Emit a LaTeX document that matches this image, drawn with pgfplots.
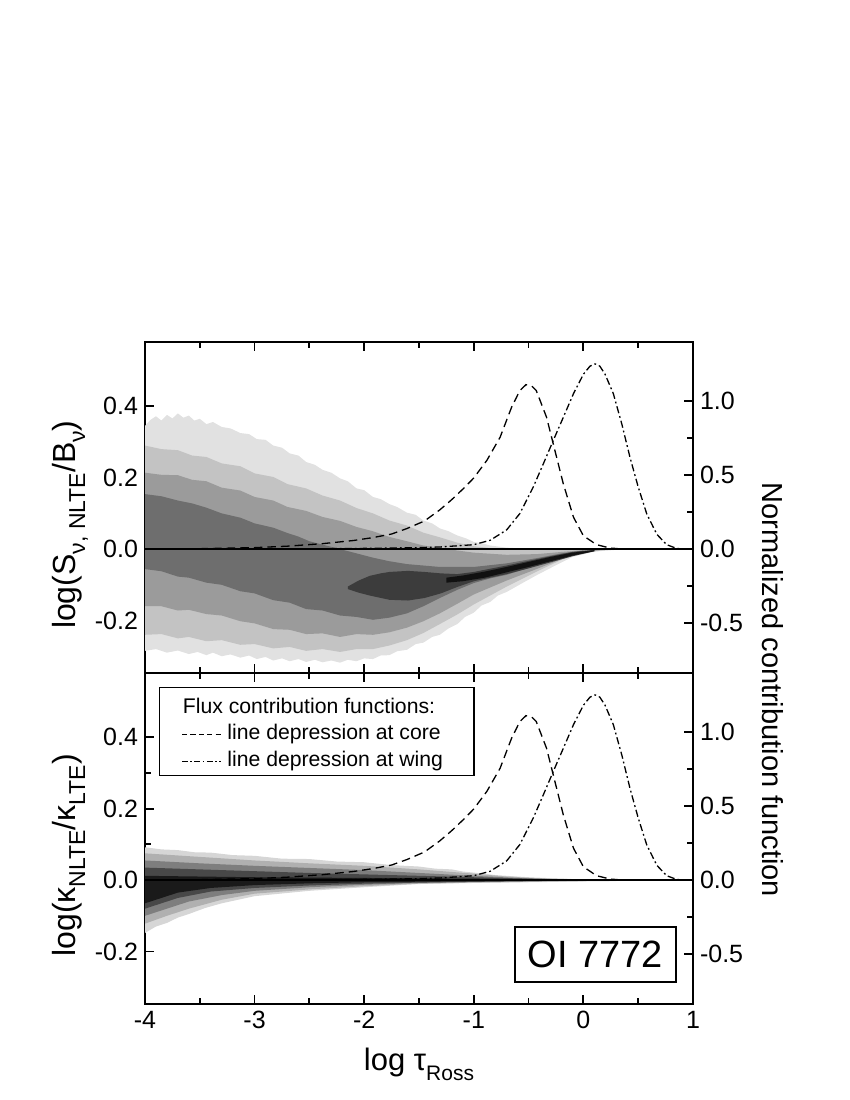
\documentclass[border=0pt]{standalone}
\usepackage{fontspec}
\setmainfont{Liberation Sans}
\usepackage{pgfplots}
\pgfplotsset{compat=1.18}

\definecolor{ca}{HTML}{E1E1E1}
\definecolor{cb}{HTML}{C3C3C3}
\definecolor{cc}{HTML}{9B9B9B}
\definecolor{cd}{HTML}{6E6E6E}
\definecolor{ce}{HTML}{3C3C3C}
\definecolor{cf}{HTML}{111111}
\definecolor{ka}{HTML}{D6D6D6}
\definecolor{kb}{HTML}{B0B0B0}
\definecolor{kc}{HTML}{7E7E7E}
\definecolor{kd}{HTML}{484848}
\definecolor{ke}{HTML}{1A1A1A}

\newcommand{\lsub}[1]{\raisebox{-5pt}{\fontsize{11.5}{11.5}\selectfont #1}}

\tikzset{
  corestyle/.style={black, line width=0.65pt, dash pattern=on 4.3pt off 2.5pt},
  wingstyle/.style={black, line width=0.65pt, dash pattern=on 3.6pt off 1.5pt on 0.9pt off 1.5pt},
}

\pgfplotsset{
  panel/.style={
    scale only axis, width=274pt, height=165.5pt,
    xmin=-4, xmax=1,
    tick align=inside,
    major tick length=4.5pt, minor tick length=2.8pt,
    tick style={black, line width=0.9pt},
    axis line style={line width=1pt},
    tick label style={font=\fontsize{12.5}{12.5}\selectfont},
    /pgf/number format/assume math mode=true,
  },
  leftax/.style={panel,
    ymin=-0.347, ymax=0.58,
    ytick={-0.2,0,0.2,0.4}, minor y tick num=1,
    xtick={-4,-3,...,1}, minor x tick num=1,
    ytick pos=left, xtick pos=both,
    yticklabel style={/pgf/number format/.cd,fixed,fixed zerofill,precision=1},
    ylabel style={font=\fontsize{16}{16}\selectfont, anchor=base},
  },
  rightax/.style={panel,
    ymin=-0.836, ymax=1.398,
    ytick={-0.5,0,0.5,1}, minor y tick num=1,
    axis y line*=right, axis x line=none,
    yticklabel style={/pgf/number format/.cd,fixed,fixed zerofill,precision=1},
  },
}

\pgfplotstableread{
x y
-4 0.000
-3.5 0.003
-3.0 0.010
-2.7 0.020
-2.38 0.037
-2.1 0.058
-1.92 0.078
-1.75 0.102
-1.61 0.139
-1.45 0.190
-1.31 0.265
-1.2 0.335
-1.1 0.405
-1.0 0.480
-0.88 0.600
-0.76 0.755
-0.655 0.958
-0.58 1.070
-0.524 1.110
-0.47 1.100
-0.43 1.070
-0.336 0.890
-0.26 0.666
-0.183 0.440
-0.09 0.215
0.0 0.090
0.12 0.030
0.24 0.008
0.36 0.000
1.0 0.000
}\coretab

\pgfplotstableread{
x y
-3.0 0.000
-2.5 0.002
-2.0 0.005
-1.5 0.010
-1.3 0.015
-1.0 0.030
-0.85 0.060
-0.70 0.130
-0.58 0.240
-0.457 0.420
-0.366 0.575
-0.275 0.733
-0.183 0.890
-0.09 1.050
0.0 1.180
0.06 1.235
0.107 1.250
0.15 1.235
0.198 1.180
0.273 1.050
0.35 0.846
0.425 0.620
0.50 0.420
0.578 0.238
0.67 0.100
0.76 0.030
0.85 0.005
0.95 0.000
1.0 0.000
}\wingtab

\begin{document}
\begin{tikzpicture}
\path[use as bounding box] (0,0) rectangle (425pt,550pt);

% ---------------- upper panel ----------------
\begin{axis}[leftax, at={(72.5pt,213.5pt)}, anchor=south west,
  xticklabels={},
  ylabel={log(S\lsub{ν, NLTE}/B\lsub{ν})},
  ylabel style={at={(axis description cs:-0.1277,0.448)}}]
\addplot[fill=ca, draw=none] coordinates {
(-4,0.345) (-3.95,0.362) (-3.9,0.372) (-3.85,0.36) (-3.8,0.376) (-3.75,0.366) (-3.7,0.38) (-3.65,0.368) (-3.6,0.374) (-3.55,0.36) (-3.5,0.365) (-3.44,0.35) (-3.38,0.356) (-3.3,0.342) (-3.22,0.338) (-3.13,0.325) (-3.05,0.322) (-2.98,0.308) (-2.9,0.306) (-2.83,0.29) (-2.75,0.284) (-2.68,0.268) (-2.6,0.262) (-2.53,0.244) (-2.45,0.236) (-2.38,0.222) (-2.3,0.214) (-2.22,0.198) (-2.15,0.19) (-2.07,0.17) (-2.0,0.165) (-1.92,0.146) (-1.85,0.14) (-1.77,0.126) (-1.7,0.118) (-1.61,0.102) (-1.53,0.096) (-1.46,0.08) (-1.38,0.072) (-1.31,0.058) (-1.23,0.05) (-1.15,0.038) (-1.07,0.03) (-1.0,0.02) (-0.92,0.016) (-0.85,0.01) (-0.7,0.004) (-0.5,0.001) (0.3,0.0)
(0.3,-0.002) (0.1,-0.007) (-0.1,-0.022) (-0.25,-0.045) (-0.42,-0.072) (-0.55,-0.094) (-0.7,-0.12) (-0.78,-0.13) (-0.85,-0.148) (-0.93,-0.158) (-1.0,-0.178) (-1.08,-0.19) (-1.15,-0.21) (-1.23,-0.222) (-1.31,-0.24) (-1.38,-0.246) (-1.46,-0.262) (-1.53,-0.266) (-1.61,-0.282) (-1.7,-0.286) (-1.77,-0.297) (-1.85,-0.298) (-1.92,-0.308) (-2.0,-0.306) (-2.07,-0.314) (-2.15,-0.31) (-2.22,-0.318) (-2.3,-0.312) (-2.38,-0.317) (-2.45,-0.31) (-2.53,-0.316) (-2.6,-0.308) (-2.68,-0.314) (-2.75,-0.306) (-2.83,-0.312) (-2.9,-0.302) (-2.98,-0.308) (-3.05,-0.298) (-3.13,-0.304) (-3.22,-0.295) (-3.3,-0.3) (-3.38,-0.29) (-3.44,-0.297) (-3.52,-0.288) (-3.6,-0.294) (-3.7,-0.284) (-3.8,-0.29) (-3.9,-0.28) (-4,-0.285)};
\addplot[fill=cb, draw=none] coordinates {
(-4,0.29) (-3.85,0.28) (-3.7,0.277) (-3.57,0.262) (-3.44,0.258) (-3.3,0.24) (-3.13,0.232) (-3.0,0.212) (-2.83,0.202) (-2.7,0.182) (-2.53,0.17) (-2.38,0.15) (-2.22,0.136) (-2.07,0.115) (-1.92,0.1) (-1.77,0.08) (-1.61,0.066) (-1.46,0.046) (-1.31,0.033) (-1.15,0.018) (-1.0,0.008) (-0.85,0.003) (-0.7,0.0) (0.2,0.0)
(0.2,-0.003) (0.0,-0.01) (-0.2,-0.03) (-0.42,-0.062) (-0.7,-0.105) (-1.0,-0.155) (-1.15,-0.183) (-1.31,-0.21) (-1.46,-0.235) (-1.61,-0.255) (-1.77,-0.27) (-1.92,-0.28) (-2.07,-0.28) (-2.22,-0.288) (-2.38,-0.28) (-2.53,-0.285) (-2.68,-0.274) (-2.83,-0.278) (-3.0,-0.266) (-3.13,-0.268) (-3.3,-0.255) (-3.44,-0.258) (-3.6,-0.246) (-3.7,-0.25) (-3.85,-0.238) (-4,-0.24)};
\addplot[fill=cc, draw=none] coordinates {
(-4,0.214) (-3.85,0.208) (-3.7,0.207) (-3.57,0.194) (-3.44,0.19) (-3.3,0.172) (-3.13,0.164) (-3.0,0.146) (-2.83,0.136) (-2.7,0.118) (-2.53,0.107) (-2.38,0.09) (-2.22,0.079) (-2.07,0.062) (-1.92,0.05) (-1.77,0.034) (-1.61,0.022) (-1.46,0.01) (-1.31,0.004) (-1.15,-0.004) (-1.0,-0.01) (-0.7,-0.016) (-0.42,-0.014) (-0.2,-0.008) (0.0,-0.003) (0.15,-0.001)
(0.15,-0.003) (0.0,-0.009) (-0.2,-0.028) (-0.42,-0.055) (-0.7,-0.088) (-1.0,-0.127) (-1.15,-0.153) (-1.31,-0.18) (-1.46,-0.202) (-1.61,-0.22) (-1.77,-0.233) (-1.92,-0.24) (-2.07,-0.238) (-2.22,-0.246) (-2.38,-0.236) (-2.53,-0.238) (-2.68,-0.226) (-2.83,-0.224) (-3.0,-0.208) (-3.13,-0.202) (-3.3,-0.186) (-3.44,-0.182) (-3.6,-0.17) (-3.7,-0.172) (-3.85,-0.16) (-4,-0.16)};
\addplot[fill=cd, draw=none] coordinates {
(-4,0.154) (-3.85,0.148) (-3.7,0.136) (-3.57,0.128) (-3.44,0.116) (-3.3,0.1) (-3.13,0.088) (-3.0,0.072) (-2.83,0.06) (-2.7,0.045) (-2.6,0.035) (-2.5,0.022) (-2.4,0.014) (-2.22,0.0) (-2.07,-0.012) (-1.92,-0.024) (-1.77,-0.034) (-1.61,-0.042) (-1.31,-0.05) (-1.0,-0.05) (-0.7,-0.04) (-0.42,-0.025) (-0.2,-0.012) (0.0,-0.004)
(0.0,-0.009) (-0.2,-0.024) (-0.42,-0.045) (-0.7,-0.072) (-0.85,-0.082) (-1.0,-0.095) (-1.15,-0.114) (-1.31,-0.137) (-1.46,-0.16) (-1.61,-0.18) (-1.77,-0.192) (-1.92,-0.198) (-2.07,-0.19) (-2.22,-0.186) (-2.38,-0.172) (-2.53,-0.168) (-2.68,-0.15) (-2.83,-0.143) (-3.0,-0.124) (-3.13,-0.118) (-3.3,-0.1) (-3.44,-0.094) (-3.6,-0.08) (-3.7,-0.077) (-3.85,-0.062) (-4,-0.056)};
\addplot[fill=ce, draw=none] coordinates {
(-2.15,-0.105) (-2.05,-0.088) (-1.95,-0.075) (-1.85,-0.068) (-1.77,-0.064) (-1.6,-0.061) (-1.45,-0.064) (-1.3,-0.068) (-1.15,-0.07) (-1.0,-0.064) (-0.85,-0.055) (-0.7,-0.046) (-0.5,-0.033) (-0.3,-0.02) (-0.1,-0.008) (0.1,-0.002)
(0.1,-0.006) (-0.1,-0.02) (-0.3,-0.037) (-0.5,-0.054) (-0.7,-0.07) (-0.85,-0.08) (-1.0,-0.09) (-1.15,-0.106) (-1.3,-0.124) (-1.45,-0.137) (-1.6,-0.144) (-1.77,-0.142) (-1.95,-0.13) (-2.05,-0.122) (-2.15,-0.112)};
\addplot[fill=cf, draw=none] coordinates {
(-1.25,-0.08) (-1.1,-0.074) (-0.9,-0.063) (-0.7,-0.05) (-0.5,-0.036) (-0.3,-0.022) (-0.1,-0.01) (0.1,-0.003)
(0.1,-0.006) (-0.1,-0.018) (-0.3,-0.034) (-0.5,-0.05) (-0.7,-0.065) (-0.9,-0.08) (-1.1,-0.09) (-1.25,-0.094)};
\addplot[black, line width=1pt] coordinates {(-4,0) (1,0)};
\end{axis}
\begin{axis}[rightax, at={(72.5pt,213.5pt)}, anchor=south west]
\addplot[corestyle] table[x=x,y=y] {\coretab};
\addplot[wingstyle] table[x=x,y=y] {\wingtab};
\end{axis}

% ---------------- lower panel ----------------
\begin{axis}[leftax, at={(72.5pt,48pt)}, anchor=south west,
  ylabel={log(κ\lsub{NLTE}/κ\lsub{LTE})},
  ylabel style={at={(axis description cs:-0.1277,0.449)}},
  xlabel={log τ\raisebox{-5pt}{\fontsize{10.5}{10.5}\selectfont Ross}},
  xlabel style={font=\fontsize{15.5}{15.5}\selectfont, at={(axis description cs:0.5,0)}, anchor=base, yshift=-33pt}]
\addplot[fill=ka, draw=none] coordinates {
(-4,0.092) (-3.85,0.086) (-3.7,0.084) (-3.55,0.078) (-3.4,0.077) (-3.2,0.07) (-3,0.068) (-2.75,0.06) (-2.5,0.059) (-2.25,0.052) (-2,0.05) (-1.75,0.042) (-1.5,0.038) (-1.35,0.032) (-1.2,0.03) (-1.1,0.024) (-1,0.021) (-0.8,0.014) (-0.5,0.008) (-0.2,0.004) (0,0.002) (0.3,0.001)
(0.3,-0.003) (0,-0.004) (-0.5,-0.006) (-1,-0.008) (-1.5,-0.011) (-2,-0.02) (-2.5,-0.03) (-3,-0.045) (-3.3,-0.065) (-3.45,-0.078) (-3.6,-0.095) (-3.7,-0.105) (-3.8,-0.12) (-3.9,-0.13) (-4,-0.148)};
\addplot[fill=kb, draw=none] coordinates {
(-4,0.075) (-3.5,0.065) (-3,0.055) (-2.5,0.047) (-2,0.04) (-1.5,0.03) (-1,0.018) (-0.7,0.01) (-0.4,0.005) (0,0.002)
(0,-0.003) (-0.5,-0.005) (-1,-0.007) (-1.5,-0.01) (-2,-0.017) (-2.5,-0.026) (-3,-0.038) (-3.3,-0.055) (-3.6,-0.08) (-3.8,-0.1) (-4,-0.122)};
\addplot[fill=kc, draw=none] coordinates {
(-4,0.055) (-3.5,0.047) (-3,0.04) (-2.5,0.034) (-2,0.028) (-1.5,0.02) (-1,0.012) (-0.6,0.006) (-0.2,0.002)
(-0.2,-0.002) (-1,-0.005) (-1.5,-0.008) (-2,-0.013) (-2.5,-0.02) (-3,-0.03) (-3.3,-0.042) (-3.6,-0.06) (-3.8,-0.08) (-4,-0.1)};
\addplot[fill=kd, draw=none] coordinates {
(-4,0.035) (-3.5,0.03) (-3,0.025) (-2.5,0.02) (-2,0.016) (-1.5,0.012) (-1,0.008) (-0.5,0.004) (0,0.001)
(0,-0.001) (-0.5,-0.003) (-1,-0.005) (-1.5,-0.007) (-2,-0.01) (-2.5,-0.015) (-3,-0.022) (-3.4,-0.032) (-3.7,-0.05) (-4,-0.08)};
\addplot[fill=ke, draw=none] coordinates {
(-4,0.012) (-3.5,0.01) (-3,0.008) (-2,0.006) (-1,0.004) (-0.5,0.002) (0,0.001)
(0,-0.001) (-1,-0.003) (-2,-0.006) (-2.5,-0.009) (-3,-0.014) (-3.4,-0.022) (-3.7,-0.035) (-4,-0.065)};
\addplot[black, line width=1pt] coordinates {(-4,0) (1,0)};
\end{axis}
\begin{axis}[rightax, at={(72.5pt,48pt)}, anchor=south west]
\addplot[corestyle] table[x=x,y=y] {\coretab};
\addplot[wingstyle] table[x=x,y=y] {\wingtab};
\end{axis}

% legend
\draw[line width=0.6pt, fill=white] (79.65pt,162.1pt) rectangle (237pt,206.25pt);
\node[anchor=base west, inner sep=0pt, font=\fontsize{10.6}{10.6}\selectfont] at (91.25pt,193pt) {Flux contribution functions:};
\draw[corestyle, dash pattern=on 2.6pt off 1.6pt] (91pt,182.75pt) -- (110.5pt,182.75pt);
\node[anchor=base west, inner sep=0pt, font=\fontsize{10.6}{10.6}\selectfont] at (113.5pt,180pt) {line depression at core};
\draw[wingstyle, dash pattern=on 3pt off 1.2pt on 0.8pt off 1.2pt] (91pt,169.25pt) -- (110.5pt,169.25pt);
\node[anchor=base west, inner sep=0pt, font=\fontsize{10.6}{10.6}\selectfont] at (113.5pt,166.5pt) {line depression at wing};

% OI label
\node[draw, line width=0.6pt, fill=white, minimum width=80.5pt, minimum height=27.5pt, inner sep=0pt,
  font=\fontsize{19}{19}\selectfont] at (297.75pt,72.75pt) {OI 7772};

% right axis label
\node[rotate=-90, anchor=base, font=\fontsize{14.5}{14.5}\selectfont] at (381pt,205pt) {Normalized contribution function};
\end{tikzpicture}
\end{document}
